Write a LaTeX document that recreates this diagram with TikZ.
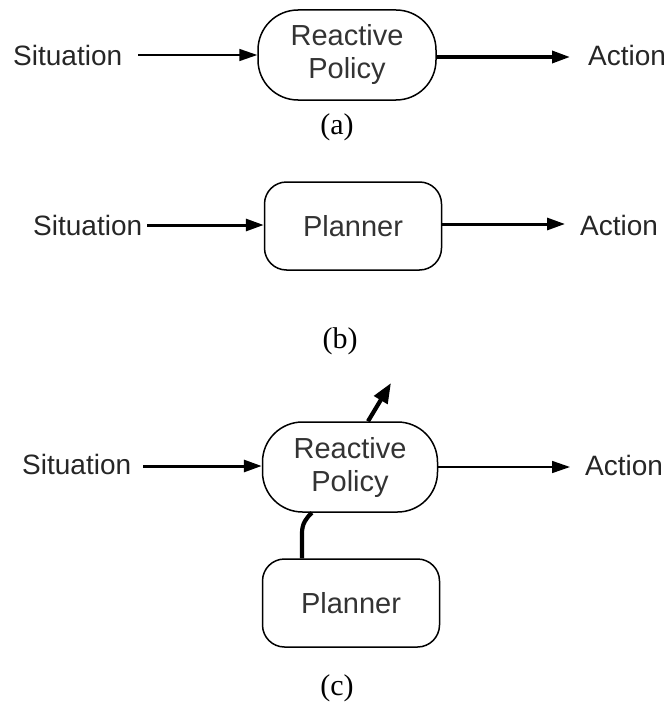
\documentclass[tikz,border=0pt]{standalone}
\usepackage{fontspec}
\setmainfont{Liberation Serif}
\setsansfont{Liberation Sans}
\usetikzlibrary{arrows.meta}
\begin{document}
\begin{tikzpicture}[x=1pt,y=-1pt,
  lbl/.style={font=\sffamily\fontsize{28}{30}\selectfont, text=black!85, inner sep=0pt},
  policy/.style={draw, line width=1.5pt, rounded corners=40pt, minimum width=178pt, minimum height=90pt,
                 align=center, font=\sffamily\fontsize{29}{33}\selectfont, text=black!80},
  plannerbox/.style={draw, line width=1.5pt, rounded corners=22pt, minimum width=177pt, minimum height=88pt,
                 font=\sffamily\fontsize{29}{33}\selectfont, text=black!80},
  caption/.style={font=\rmfamily\fontsize{30}{32}\selectfont, inner sep=0pt},
  tip/.style={-{Triangle[length=18pt,width=12pt]}},
  thinarrow/.style={tip, line width=1.6pt},
  thickarrow/.style={tip, line width=3.4pt},
  link/.style={line width=4.2pt}
]
\useasboundingbox (0,0) rectangle (667,709);

% (a) reactive policy
\node[lbl, anchor=west] (sa) at (13,55) {Situation};
\node[policy] (rpa) at (347,55) {Reactive\\Policy};
\node[lbl, anchor=west] (aa) at (588,55) {Action};
\coordinate (ain) at (138,55);
\coordinate (aout) at (570,57);
\draw[thinarrow] (ain) -- (ain -| rpa.west);
\draw[thickarrow] (aout -| rpa.east) -- (aout);
\node[caption] (ca) at (337,127) {(a)};

% (b) planner
\node[lbl, anchor=west] (sb) at (33,225) {Situation};
\node[plannerbox] (pb) at (353,226) {Planner};
\node[lbl, anchor=west] (ab) at (580,225) {Action};
\coordinate (bin) at (147,225);
\coordinate (bout) at (565,224);
\draw[thickarrow, line width=3pt] (bin) -- (bin -| pb.west);
\draw[thickarrow, line width=3pt] (bout -| pb.east) -- (bout);
\node[caption] (cb) at (340,341) {(b)};

% (c) planner feeding the reactive policy
\node[lbl, anchor=west] (sc) at (22,464) {Situation};
\node[policy, minimum width=175pt] (rpc) at (350,467) {Reactive\\Policy};
\node[lbl, anchor=west] (ac) at (585,465) {Action};
\coordinate (cin) at (143,466);
\coordinate (cout) at (570,467);
\draw[thickarrow, line width=3pt] (cin) -- (cin -| rpc.west);
\draw[thinarrow] (cout -| rpc.east) -- (cout);
\node[plannerbox] (pc) at (351,603) {Planner};
\coordinate (up) at (391,383);
\draw[link, -{Triangle[length=20pt,width=15pt]}] (rpc.north -| 368,0) -- (up);
\draw[link] (pc.north -| 302,0) -- (302,533) .. controls (302,524) and (306,518) .. (rpc.south -| 312,0);
\node[caption] (cc) at (337,688) {(c)};
\end{tikzpicture}
\end{document}
